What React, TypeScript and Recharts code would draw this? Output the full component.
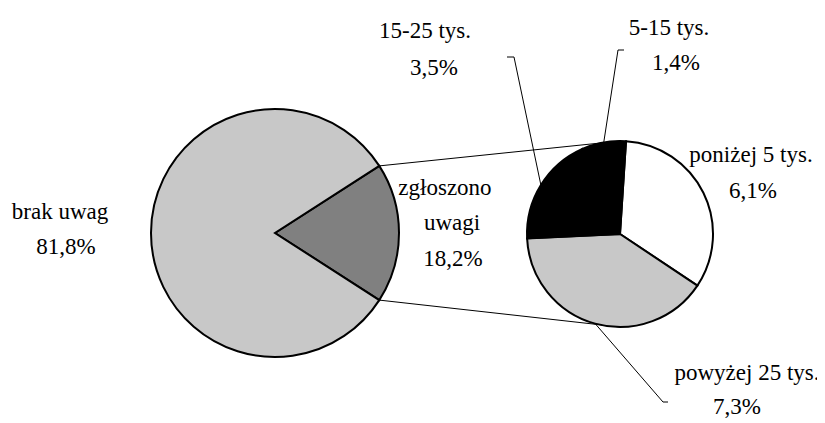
import React from "react";
import { PieChart, Pie, Cell } from "recharts";

// main pie
const mainCategories = ["zgłoszono uwagi", "brak uwag"];
const mainValues = [18.2, 81.8];
// second pie (split of "zgłoszono uwagi")
const subCategories = ["poniżej 5 tys.", "powyżej 25 tys.", "15-25 tys.", "5-15 tys."];
const subValues = [6.1, 7.3, 3.5, 1.4];

const mainColors = ["#808080", "#c8c8c8"];
const subColors = ["#ffffff", "#c8c8c8", "#000000", "#000000"];

const W = 825;
const H = 423;
const MAIN = { cx: 275, cy: 233, r: 124 };
const SUB = { cx: 620, cy: 234, r: 93 };
const SUB_START = 86.3;

// label line centres (text baseline = centre + 8), optional leader elbow
type LabelPos = { xs: number[]; ys: number[]; elbow?: [number, number]; tick?: number };
const mainLabelPos: LabelPos[] = [
  { xs: [445, 452, 453], ys: [187, 222, 258] },
  { xs: [60, 66], ys: [211, 246] },
];
const subLabelPos: LabelPos[] = [
  { xs: [751, 753], ys: [154, 190] },
  { xs: [747, 737], ys: [372, 406], elbow: [663, 402], tick: 668 },
  { xs: [425, 434], ys: [30, 67], elbow: [514, 57], tick: 507 },
  { xs: [669, 676], ys: [27, 62], elbow: [618, 50], tick: 624 },
];

const mainData = mainCategories.map((name, i) => ({ name, value: mainValues[i] }));
const subData = subCategories.map((name, i) => ({ name, value: subValues[i] }));

const RAD = Math.PI / 180;
const polar = (cx: number, cy: number, r: number, a: number) => [
  cx + r * Math.cos(a * RAD),
  cy - r * Math.sin(a * RAD),
];
const pct = (v: number) => v.toFixed(1).replace(".", ",") + "%";

const total = mainValues.reduce((a, b) => a + b, 0);
const half = (mainValues[0] / total) * 180;
const subTotal = subValues.reduce((a, b) => a + b, 0);

// mid angles of the second pie slices (clockwise from SUB_START)
const subMid = (i: number) => {
  const before = subValues.slice(0, i).reduce((a, b) => a + b, 0);
  return SUB_START - ((before + subValues[i] / 2) / subTotal) * 360;
};

const Connectors = () => {
  const [x1, y1] = polar(MAIN.cx, MAIN.cy, MAIN.r, half);
  const [x2, y2] = polar(SUB.cx, SUB.cy, SUB.r, 90);
  const [x3, y3] = polar(MAIN.cx, MAIN.cy, MAIN.r, -half);
  const [x4, y4] = polar(SUB.cx, SUB.cy, SUB.r, -90);
  return (
    <g>
      <line x1={x1} y1={y1} x2={x2} y2={y2} stroke="#000" strokeWidth={1} />
      <line x1={x3} y1={y3} x2={x4} y2={y4} stroke="#000" strokeWidth={1} />
    </g>
  );
};

const LabelBlock = ({ lines, pos }: { lines: string[]; pos: LabelPos }) => (
  <g>
    {lines.map((t, i) => (
      <text
        key={i}
        x={pos.xs[i]}
        y={pos.ys[i] + 8}
        textAnchor="middle"
        fontFamily="Liberation Serif"
        fontSize={23}
        style={{ fontFamily: "Liberation Serif", fontSize: 23 }}
      >
        {t}
      </text>
    ))}
  </g>
);

const Labels = () => (
  <g>
    {mainData.map((d, i) => {
      const pos = mainLabelPos[i];
      const lines = pos.xs.length === 3 ? [...d.name.split(" "), pct(d.value)] : [d.name, pct(d.value)];
      return <LabelBlock key={d.name} lines={lines} pos={pos} />;
    })}
    {subData.map((d, i) => {
      const pos = subLabelPos[i];
      let leader = null;
      if (pos.elbow) {
        const [sx, sy] = polar(SUB.cx, SUB.cy, SUB.r, subMid(i));
        const [ex, ey] = pos.elbow;
        leader = (
          <polyline
            points={`${sx},${sy} ${ex},${ey} ${pos.tick},${ey}`}
            fill="none"
            stroke="#000"
            strokeWidth={1}
          />
        );
      }
      return (
        <g key={d.name}>
          {leader}
          <LabelBlock lines={[d.name, pct(d.value)]} pos={pos} />
        </g>
      );
    })}
  </g>
);

export default function App() {
  return (
    <PieChart
      width={W}
      height={H}
      margin={{ top: 0, right: 0, bottom: 0, left: 0 }}
      style={{ marginLeft: -8, marginTop: -8 }}
    >
      <Connectors />
      <Pie
        data={mainData}
        dataKey="value"
        nameKey="name"
        cx={MAIN.cx}
        cy={MAIN.cy}
        outerRadius={MAIN.r}
        startAngle={half}
        endAngle={half - 360}
        stroke="#000"
        strokeWidth={2}
        isAnimationActive={false}
      >
        {mainData.map((d, i) => (
          <Cell key={d.name} fill={mainColors[i]} stroke="#000" strokeWidth={2} />
        ))}
      </Pie>
      <Pie
        data={subData}
        dataKey="value"
        nameKey="name"
        cx={SUB.cx}
        cy={SUB.cy}
        outerRadius={SUB.r}
        startAngle={SUB_START}
        endAngle={SUB_START - 360}
        stroke="#000"
        strokeWidth={2}
        isAnimationActive={false}
      >
        {subData.map((d, i) => (
          <Cell key={d.name} fill={subColors[i]} stroke="#000" strokeWidth={2} />
        ))}
      </Pie>
      <Labels />
    </PieChart>
  );
}
